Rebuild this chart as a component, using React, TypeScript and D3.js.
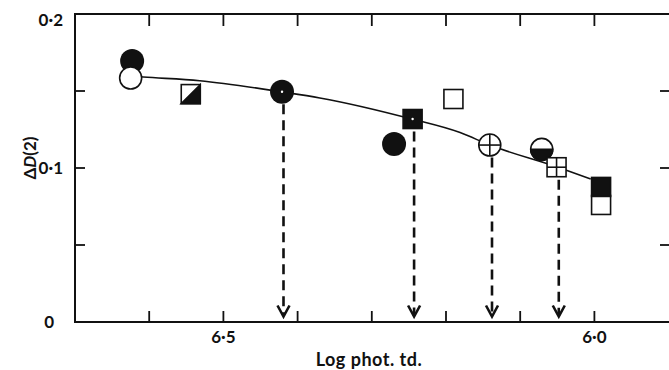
import * as d3 from "d3";

// Log retinal illuminance (reversed axis) vs. ΔD(2)

// ---------------------------------------------------------------------------
// Data
// ---------------------------------------------------------------------------

const markerX = [6.623, 6.625, 6.544, 6.421, 6.27, 6.245, 6.19, 6.141, 6.071, 6.051, 5.991, 5.991];
const markerY = [0.1695, 0.1584, 0.148, 0.1495, 0.1156, 0.1318, 0.1448, 0.1149, 0.1121, 0.1005, 0.076, 0.0877];
const markerKind = [
  "filledCircle",
  "openCircle",
  "halfSquare",
  "dotCircle",
  "filledCircle",
  "dotSquare",
  "openSquare",
  "crossCircle",
  "halfCircle",
  "crossSquare",
  "openSquare",
  "filledSquare",
];

// fitted curve
const curveX = [6.625, 6.608, 6.532, 6.421, 6.37, 6.246, 6.181, 6.141, 6.05, 6.005];
const curveY = [0.1597, 0.1591, 0.1567, 0.1494, 0.1455, 0.1318, 0.123, 0.1149, 0.1006, 0.0929];

// dashed arrows dropped from the curve to the abscissa
const arrowX = [6.419, 6.243, 6.138, 6.048];
const arrowFromY = [0.1495, 0.1318, 0.1149, 0.1005];

const xTicks = [6.6, 6.5, 6.4, 6.3, 6.2, 6.1, 6.0];
const xTickLabels = [6.5, 6.0];
const yTicks = [0.05, 0.1, 0.15];
const yTickLabels = [0, 0.1, 0.2];

// ---------------------------------------------------------------------------
// Layout
// ---------------------------------------------------------------------------

const W = 669;
const H = 370;
const LEFT = 75;
const RIGHT = 672;
const TOP = 14;
const BOTTOM = 322;
const FONT = "Lato, 'Open Sans', sans-serif";
const INK = "#111";
const R = 11.5;
const SQ = 19;

const x = d3.scaleLinear().domain([6.7, 5.9]).range([LEFT, 668.6]);
const y = d3.scaleLinear().domain([0, 0.2]).range([BOTTOM, TOP]);

const fmt = (v: number) => (v === 0 ? "0" : v.toFixed(1).replace(".", "\u00b7"));

function Marker({ kind, cx, cy }: { kind: string; cx: number; cy: number }) {
  const sw = 1.6;
  const h = SQ / 2;
  switch (kind) {
    case "filledCircle":
      return <circle cx={cx} cy={cy} r={R + 0.5} fill={INK} />;
    case "openCircle":
      return <circle cx={cx} cy={cy} r={R - 0.5} fill="white" stroke={INK} strokeWidth={sw} />;
    case "dotCircle":
      return (
        <g>
          <circle cx={cx} cy={cy} r={R + 0.5} fill={INK} />
          <circle cx={cx} cy={cy} r={1.2} fill="white" />
        </g>
      );
    case "crossCircle":
      return (
        <g>
          <circle cx={cx} cy={cy} r={R - 0.5} fill="white" stroke={INK} strokeWidth={sw} />
          <line x1={cx - R + 0.5} x2={cx + R - 0.5} y1={cy} y2={cy} stroke={INK} strokeWidth={sw} />
          <line x1={cx} x2={cx} y1={cy - R + 0.5} y2={cy + R - 0.5} stroke={INK} strokeWidth={sw} />
        </g>
      );
    case "halfCircle": {
      const r = R - 0.5;
      return (
        <g>
          <circle cx={cx} cy={cy} r={r} fill="white" stroke={INK} strokeWidth={sw} />
          <path d={`M${cx - r},${cy} A${r},${r} 0 0 0 ${cx + r},${cy} Z`} fill={INK} stroke={INK} strokeWidth={sw} />
        </g>
      );
    }
    case "openSquare":
      return <rect x={cx - h} y={cy - h} width={SQ} height={SQ} fill="white" stroke={INK} strokeWidth={sw} />;
    case "filledSquare":
      return <rect x={cx - h} y={cy - h} width={SQ} height={SQ} fill={INK} stroke={INK} strokeWidth={sw} />;
    case "dotSquare":
      return (
        <g>
          <rect x={cx - h} y={cy - h} width={SQ} height={SQ} fill={INK} stroke={INK} strokeWidth={sw} />
          <circle cx={cx} cy={cy} r={1.2} fill="white" />
        </g>
      );
    case "halfSquare":
      return (
        <g>
          <rect x={cx - h} y={cy - h} width={SQ} height={SQ} fill="white" stroke={INK} strokeWidth={sw} />
          <path d={`M${cx - h},${cy + h} L${cx + h},${cy - h} L${cx + h},${cy + h} Z`} fill={INK} stroke={INK} strokeWidth={sw} />
        </g>
      );
    case "crossSquare":
      return (
        <g>
          <rect x={cx - h} y={cy - h} width={SQ} height={SQ} fill="white" stroke={INK} strokeWidth={sw} />
          <line x1={cx - h} x2={cx + h} y1={cy} y2={cy} stroke={INK} strokeWidth={sw} />
          <line x1={cx} x2={cx} y1={cy - h} y2={cy + h} stroke={INK} strokeWidth={sw} />
        </g>
      );
    default:
      return null;
  }
}

export default function App() {
  const curvePts = curveX.map((v, i) => [x(v), y(curveY[i])] as [number, number]);
  const curvePath = d3.line().curve(d3.curveMonotoneX)(curvePts) ?? "";
  const tipY = y(0) - 5.5;

  return (
    <svg
      width={W}
      height={H}
      style={{ position: "absolute", left: 0, top: 0, background: "white" }}
      fontFamily={FONT}
    >
      {/* frame */}
      <path
        d={`M${LEFT},${TOP} L${RIGHT},${TOP} L${RIGHT},${BOTTOM} L${LEFT},${BOTTOM} Z`}
        fill="none"
        stroke={INK}
        strokeWidth={2}
      />

      {/* x ticks, top and bottom, pointing inward */}
      {xTicks.map((t) => (
        <g key={t}>
          <line x1={x(t)} x2={x(t)} y1={BOTTOM} y2={BOTTOM - 11} stroke={INK} strokeWidth={1.8} />
          <line x1={x(t)} x2={x(t)} y1={TOP} y2={TOP + 12} stroke={INK} strokeWidth={1.8} />
        </g>
      ))}

      {/* y ticks, left and right */}
      {yTicks.map((t) => (
        <g key={t}>
          <line x1={LEFT} x2={LEFT + 10} y1={y(t)} y2={y(t)} stroke={INK} strokeWidth={1.8} />
          <line x1={RIGHT - 12} x2={RIGHT} y1={y(t)} y2={y(t)} stroke={INK} strokeWidth={1.8} />
        </g>
      ))}

      {/* tick labels */}
      {xTickLabels.map((t) => (
        <text key={t} x={x(t)} y={343} textAnchor="middle" fontSize={17} fontWeight={700} fill={INK}>
          {fmt(t)}
        </text>
      ))}
      {yTickLabels.map((t) => (
        <text
          key={t}
          x={t === 0 ? 54 : 63}
          y={y(t) + (t === 0.2 ? 12 : 6)}
          textAnchor="end"
          fontSize={17}
          fontWeight={700}
          fill={INK}
        >
          {fmt(t)}
        </text>
      ))}

      {/* axis titles */}
      <text x={369} y={366} textAnchor="middle" fontSize={18} fontWeight={700} letterSpacing={0.5} fill={INK}>
        Log phot. td.
      </text>
      <text
        transform="translate(36,158) rotate(-90)"
        textAnchor="middle"
        fontSize={17}
        fontWeight={700}
        fill={INK}
      >
        Δ<tspan fontStyle="italic">D</tspan>(2)
      </text>

      {/* arrows */}
      {arrowX.map((v, i) => {
        const ax = x(v);
        const y0 = y(arrowFromY[i]) + R + 1;
        return (
          <g key={v} stroke={INK} strokeWidth={2.6} fill="none">
            <line x1={ax} x2={ax} y1={y0} y2={tipY - 1} strokeDasharray="10,6" />
            <path d={`M${ax - 6},${tipY - 11} L${ax},${tipY} L${ax + 6},${tipY - 11}`} />
          </g>
        );
      })}

      {/* fitted curve */}
      <path d={curvePath} fill="none" stroke={INK} strokeWidth={1.6} />

      {/* data markers */}
      {markerX.map((v, i) => (
        <Marker key={i} kind={markerKind[i]} cx={x(v)} cy={y(markerY[i])} />
      ))}
    </svg>
  );
}
